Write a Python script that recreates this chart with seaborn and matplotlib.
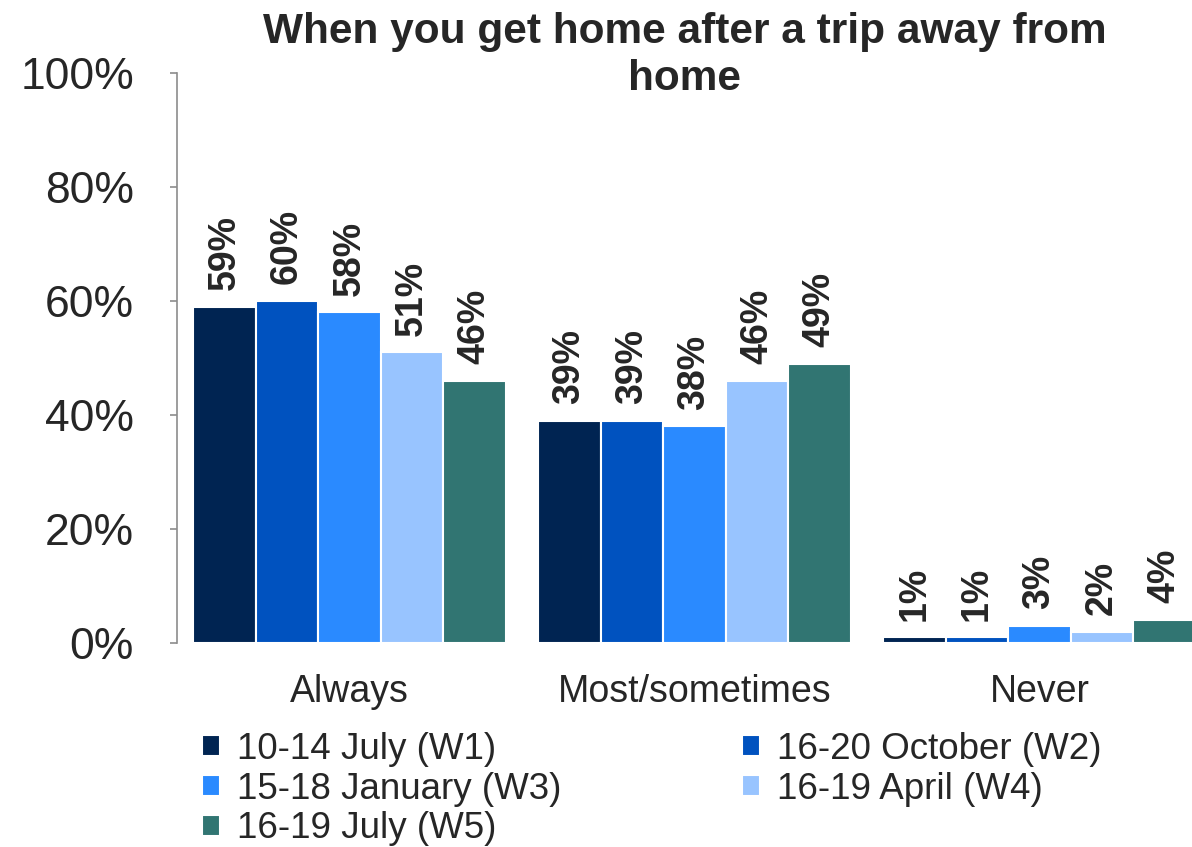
import pandas as pd
import matplotlib.pyplot as plt
import seaborn as sns

# Chart data
categories = ['Always', 'Most/sometimes', 'Never']
waves = ['10-14 July (W1)', '16-20 October (W2)', '15-18 January (W3)',
         '16-19 April (W4)', '16-19 July (W5)']
w1 = [59, 39, 1]
w2 = [60, 39, 1]
w3 = [58, 38, 3]
w4 = [51, 46, 2]
w5 = [46, 49, 4]
yticks = [0, 20, 40, 60, 80, 100]

colors = ['#002452', '#0052BF', '#2A8AFF', '#98C4FF', '#317572']

# Long form for seaborn
rows = []
for wave, vals in zip(waves, [w1, w2, w3, w4, w5]):
    for cat, v in zip(categories, vals):
        rows.append({'category': cat, 'wave': wave, 'value': v})
df = pd.DataFrame(rows)

sns.set_style('white')
plt.rcParams['font.family'] = ['Liberation Sans', 'DejaVu Sans']

fig = plt.figure(figsize=(11.92, 8.47), dpi=100)
ax = fig.add_axes([0.1485, 0.2409, 0.8515, 0.6729])

sns.barplot(data=df, x='category', y='value', hue='wave', order=categories,
            hue_order=waves, palette=colors, width=0.905, edgecolor='white',
            linewidth=1.5, saturation=1, ax=ax)

# Value labels
for cont in ax.containers:
    ax.bar_label(cont, labels=[f'{int(b.get_height())}%' for b in cont],
                 rotation=90, padding=12, fontsize=27, fontweight='bold',
                 color='#262626')

ax.set_ylim(0, 100)
ax.set_xlim(-0.5, 2.442)
ax.set_yticks(yticks)
ax.set_yticklabels([f'{t}%' for t in yticks])
ax.set_xlabel('')
ax.set_ylabel('')

for s in ['top', 'right', 'bottom']:
    ax.spines[s].set_visible(False)
ax.spines['left'].set_color('#8c8c8c')
ax.spines['left'].set_linewidth(1.2)

ax.tick_params(axis='y', which='major', left=True, length=5, width=1.2,
               color='#8c8c8c', pad=26, labelsize=32, labelcolor='#262626')
ax.tick_params(axis='x', length=0, pad=22, labelsize=27, labelcolor='#262626')

ax.set_title('When you get home after a trip away from\nhome', fontsize=30.5,
             fontweight='bold', color='#262626', pad=-12, linespacing=1.22)

# Legend in row-major order
handles, labels = ax.get_legend_handles_labels()
order = [0, 2, 4, 1, 3]
ax.legend([handles[i] for i in order], [labels[i] for i in order],
          loc='upper left', bbox_to_anchor=(0.01, -0.13), ncol=2,
          frameon=False, fontsize=26.5, handlelength=0.5, handleheight=0.5,
          handletextpad=0.45, columnspacing=4.9, labelspacing=0.13,
          borderaxespad=0, labelcolor='#262626')

fig.savefig('out.png', dpi=100)
